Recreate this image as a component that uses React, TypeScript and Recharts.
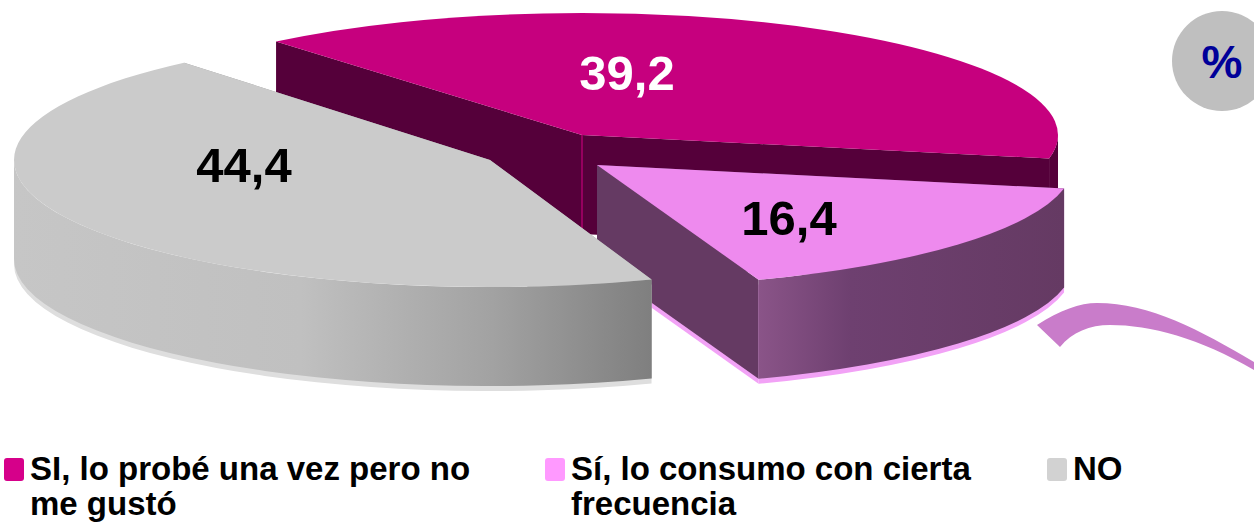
import React from "react";
import { PieChart, Pie, Legend, Customized } from "recharts";

const categories = ["SI, lo probé una vez pero no me gustó", "Sí, lo consumo con cierta frecuencia", "NO"];
const values = [39.2, 16.4, 44.4];
const legendLines = [["SI, lo probé una vez pero no", "me gustó"], ["Sí, lo consumo con cierta", "frecuencia"], ["NO"]];
const unitLabel = "%";

const rows = categories.map((name, i) => ({ name, value: values[i] }));

const DEPTH = 99;
const styles = [
  { dx: 22, dy: -15, ryk: 122 / 476, top: "#c6007e", cut: "#55003a", rim: "#55003a", skirt: "none", lx: 45, ly: -62, text: "#ffffff", swatch: "#d6008a" },
  { dx: 37, dy: 15, ryk: 122 / 476, top: "#ee8aee", cut: "#653a63", rim: "url(#rimPink)", skirt: "#f2a2f6", lx: 192, ly: 53, text: "#000000", swatch: "#ff99ff" },
  { dx: -70, dy: 10, ryk: 127 / 476, top: "#cbcbcb", cut: "#999999", rim: "url(#rimGray)", skirt: "#dedede", lx: -246, ly: 5, text: "#000000", swatch: "#d2d2d2" },
];
const colX = [4, 545, 1047];

const styleOf = (name: string) => styles[categories.indexOf(name)];

function SliceShape(props: any) {
  const { cx, cy, outerRadius, startAngle, endAngle, name, payload } = props;
  const s = styleOf(name ?? payload?.name);
  const rx = outerRadius;
  const ry = outerRadius * s.ryk;
  const ox = cx + s.dx;
  const oy = cy + s.dy;
  const pt = (t: number, drop = 0) => {
    const r = (t * Math.PI) / 180;
    return [ox + rx * Math.cos(r), oy - ry * Math.sin(r) + drop];
  };
  const p0 = pt(startAngle);
  const p1 = pt(endAngle);
  const large = Math.abs(startAngle - endAngle) > 180 ? 1 : 0;
  const top = `M${ox},${oy}L${p0[0]},${p0[1]}A${rx},${ry} 0 ${large} 1 ${p1[0]},${p1[1]}Z`;
  const quad = (a: number[], b: number[]) =>
    `M${a[0]},${a[1]}L${b[0]},${b[1]}L${b[0]},${b[1] + DEPTH}L${a[0]},${a[1] + DEPTH}Z`;
  const a = Math.min(startAngle, 0);
  const b = Math.max(endAngle, -180);
  let rim = "";
  if (a > b) {
    const r0 = pt(a);
    const r1 = pt(b);
    const r2 = pt(b, DEPTH);
    const r3 = pt(a, DEPTH);
    rim = `M${r0[0]},${r0[1]}A${rx},${ry} 0 0 1 ${r1[0]},${r1[1]}L${r2[0]},${r2[1]}A${rx},${ry} 0 0 0 ${r3[0]},${r3[1]}Z`;
  }
  const cut0 = quad([ox, oy], p0);
  const cut1 = quad([ox, oy], p1);
  return (
    <g>
      {s.skirt !== "none" && (
        <g transform="translate(0,5)" fill={s.skirt}>
          <path d={cut1} />
          <path d={rim} />
        </g>
      )}
      <path d={cut0} fill={s.cut} />
      <path d={cut1} fill={s.cut} />
      <path d={rim} fill={s.rim} />
      {s.skirt === "none" && (
        <line x1={ox} y1={oy} x2={ox} y2={oy + DEPTH} stroke="#96005f" strokeWidth={2} />
      )}
      <path d={top} fill={s.top} />
    </g>
  );
}

function SliceLabel(props: any) {
  const { cx, cy, name, value, payload } = props;
  const s = styleOf(name ?? payload?.name);
  return (
    <text
      x={cx + s.dx + s.lx}
      y={cy + s.dy + s.ly}
      fill={s.text}
      fontSize={49}
      fontWeight={700}
      fontFamily="Liberation Sans"
      textAnchor="middle"
      dominantBaseline="central"
    >
      {String(value).replace(".", ",")}
    </text>
  );
}

function Extras() {
  return (
    <g>
      <defs>
        <linearGradient id="rimGray" x1="0" y1="0" x2="1" y2="0">
          <stop offset="0" stopColor="#c6c6c6" />
          <stop offset="0.45" stopColor="#c0c0c0" />
          <stop offset="0.75" stopColor="#a2a2a2" />
          <stop offset="1" stopColor="#7f7f7f" />
        </linearGradient>
        <linearGradient id="rimPink" x1="0" y1="0" x2="1" y2="0">
          <stop offset="0" stopColor="#8a5488" />
          <stop offset="0.3" stopColor="#6e4070" />
          <stop offset="1" stopColor="#653a63" />
        </linearGradient>
      </defs>
      <path
        d="M1037,325C1060,310 1080,303 1097,303C1150,303 1200,330 1254,362L1254,370C1200,338 1150,325 1110,325C1090,325 1072,332 1060,347Z"
        fill="#c97cca"
      />
      <circle cx={1222} cy={61} r={50} fill="#bfbfbf" />
      <text x={1222} y={62} fontSize={46} fontWeight={700} fontFamily="Liberation Sans" fill="#000099" textAnchor="middle" dominantBaseline="central">
        {unitLabel}
      </text>
    </g>
  );
}

function LegendBody() {
  return (
    <div style={{ position: "relative", width: 1254, height: 72, fontFamily: "Liberation Sans", fontWeight: 700, fontSize: 33, lineHeight: "35px", color: "#000" }}>
      {categories.map((c, i) => (
        <div key={c} style={{ position: "absolute", left: colX[i], top: 0 }}>
          <div style={{ position: "absolute", left: 0, top: 7, width: 20, height: 23, borderRadius: 3, background: styles[i].swatch }} />
          <div style={{ marginLeft: 26, whiteSpace: "nowrap" }}>
            {legendLines[i].map((l) => (
              <div key={l}>{l}</div>
            ))}
          </div>
        </div>
      ))}
    </div>
  );
}

export default function App() {
  return (
    <div style={{ position: "absolute", left: 0, top: 0, width: 1254, height: 522, overflow: "hidden", background: "#fff" }}>
      <PieChart width={1254} height={522} margin={{ top: 0, right: 0, bottom: 0, left: 0 }}>
        <Customized component={Extras} />
        <Pie
          data={rows}
          dataKey="value"
          nameKey="name"
          cx={560}
          cy={150}
          innerRadius={0}
          outerRadius={476}
          startAngle={130}
          endAngle={-230}
          isAnimationActive={false}
          shape={SliceShape}
          label={SliceLabel}
          labelLine={false}
          stroke="none"
        />
        <Legend content={<LegendBody />} wrapperStyle={{ position: "absolute", left: 0, top: 451, width: 1254, height: 71 }} />
      </PieChart>
    </div>
  );
}
